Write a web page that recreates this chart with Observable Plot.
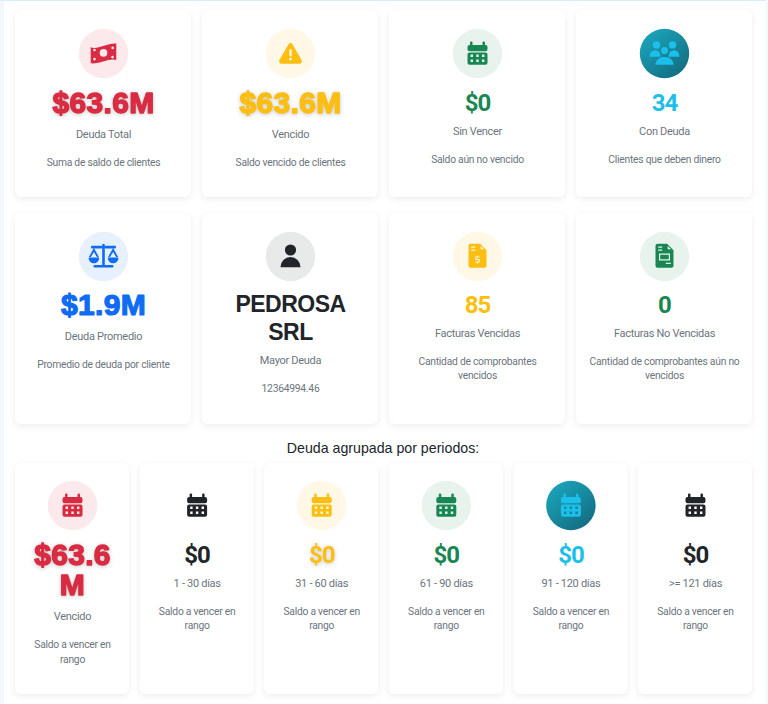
<!DOCTYPE html>
<html lang="es">
<head>
<meta charset="utf-8">
<script src="https://cdn.jsdelivr.net/npm/d3@7"></script>
<script src="https://cdn.jsdelivr.net/npm/@observablehq/plot@0.6"></script>
<style>
  html, body { margin: 0; padding: 0; overflow: hidden; background: #fff; }
  #page { position: relative; width: 768px; height: 704px; background: #fff; }
  #page::before { content: ""; position: absolute; left: 0; top: 0; width: 4px; height: 704px; background: #f4f8fd; }
  #page::after { content: ""; position: absolute; left: 0; top: 0; width: 765px; height: 1px; background: #d9edf6; }
  #edge { position: absolute; left: 765px; top: 0; width: 3px; height: 704px; background: #f6f9fc; }
  svg { display: block; position: relative; }
  #period { height: 25px; text-align: center; font: 14.2px/25px "Liberation Sans", sans-serif; color: #212529; position: relative; left: -1px; }
  [aria-label="teal"] { fill: url(#tealGrad); }
  [aria-label="card label"] { letter-spacing: -0.3px; }
  [aria-label="card note"] { letter-spacing: -0.25px; }
  [aria-label="value num"], [aria-label="value numShadow"] { letter-spacing: -1px; }
  [aria-label="value name"] { letter-spacing: -0.5px; }
  [aria-label="value heavy"], [aria-label="value bold"] { letter-spacing: 0.3px; }
</style>
</head>
<body>
<div id="page"><div id="edge"></div></div>
<script>
// ---- data: values ----
const labelsA = ["Deuda Total", "Vencido", "Sin Vencer", "Con Deuda"];
const valuesA = ["$63.6M", "$63.6M", "$0", "34"];
const notesA  = ["Suma de saldo de clientes", "Saldo vencido de clientes", "Saldo aún no vencido", "Clientes que deben dinero"];
const tonesA  = ["danger", "warning", "success", "info"];
const iconsA  = ["money", "warn", "calendar", "users"];
const kindsA  = ["heavy", "heavy", "num", "num"];

const labelsB = ["Deuda Promedio", "Mayor Deuda", "Facturas Vencidas", "Facturas No Vencidas"];
const valuesB = ["$1.9M", "PEDROSA\nSRL", "85", "0"];
const notesB  = ["Promedio de deuda por cliente", "12364994.46", "Cantidad de comprobantes\nvencidos", "Cantidad de comprobantes aún no\nvencidos"];
const tonesB  = ["primary", "dark", "warning", "success"];
const iconsB  = ["scale", "person", "fileDollar", "fileInvoice"];
const kindsB  = ["bold", "name", "num", "num"];

const periodTitle = "Deuda agrupada por periodos:";
const labelsC = ["Vencido", "1 - 30 días", "31 - 60 días", "61 - 90 días", "91 - 120 días", ">= 121 días"];
const valuesC = ["$63.6\nM", "$0", "$0", "$0", "$0", "$0"];
const notesC  = Array.from(labelsC, () => "Saldo a vencer en\nrango");
const tonesC  = ["danger", "bare", "warning", "success", "info", "bare"];
const iconsC  = ["calendar", "calendar", "calendar", "calendar", "calendar", "calendar"];
const kindsC  = ["heavy", "num", "numShadow", "num", "num", "num"];

// ---- styles ----
const toneDomain = ["danger", "warning", "success", "info", "primary", "dark", "bare"];
const toneRange  = ["#d92b42", "#fdbe12", "#198754", "#1cbfea", "#0f6cf2", "#212529", "#212529"];
const KIND = {
  heavy:     {font: "Liberation Sans", size: 30, lh: 30, v0: 93, g1: 30.5, g2: 27.3, thick: 1.4, shadow: true},
  bold:      {font: "Liberation Sans", size: 30, lh: 30, v0: 93, g1: 30.5, g2: 27.3, thick: 1.2, shadow: false},
  num:       {font: "Roboto", size: 24, lh: 28, v0: 92, g1: 29, g2: 26.7, thick: 0, shadow: false},
  numShadow: {font: "Roboto", size: 24, lh: 28, v0: 92, g1: 29, g2: 26.7, thick: 0, shadow: true},
  name:      {font: "Liberation Sans", size: 23, lh: 28, v0: 91, g1: 29, g2: 27, thick: 0, shadow: false}
};

// ---- icon glyphs: custom symbols for Plot.dot (holes are wound the other way) ----
function rr(c, x, y, w, h, r) {
  c.moveTo(x + r, y); c.lineTo(x + w - r, y); c.arcTo(x + w, y, x + w, y + r, r);
  c.lineTo(x + w, y + h - r); c.arcTo(x + w, y + h, x + w - r, y + h, r);
  c.lineTo(x + r, y + h); c.arcTo(x, y + h, x, y + h - r, r);
  c.lineTo(x, y + r); c.arcTo(x, y, x + r, y, r); c.closePath();
}
function hole(c, x, y, w, h) { c.moveTo(x, y); c.lineTo(x, y + h); c.lineTo(x + w, y + h); c.lineTo(x + w, y); c.closePath(); }
function disc(c, x, y, r) { c.moveTo(x + r, y); c.arc(x, y, r, 0, 2 * Math.PI); c.closePath(); }
function holeDisc(c, x, y, r) { c.moveTo(x + r, y); c.arc(x, y, r, 0, 2 * Math.PI, true); c.closePath(); }
function dome(c, x, y, w, h) {
  const r = Math.min(w / 2, h);
  c.moveTo(x, y + h); c.lineTo(x, y + r); c.arcTo(x, y, x + r, y, r); c.lineTo(x + w - r, y);
  c.arcTo(x + w, y, x + w, y + r, r); c.lineTo(x + w, y + h); c.closePath();
}
function fileBody(c) {
  c.moveTo(-7, -12.7); c.lineTo(2.6, -12.7); c.lineTo(9, -6.3); c.lineTo(9, 9.3);
  c.arcTo(9, 11.3, 7, 11.3, 2); c.lineTo(-7, 11.3); c.arcTo(-9, 11.3, -9, 9.3, 2);
  c.lineTo(-9, -10.7); c.arcTo(-9, -12.7, -7, -12.7, 2); c.closePath();
  hole(c, -6.3, -10, 4, 1.2); hole(c, -6.3, -7, 4, 1.2);
  c.moveTo(3.2, -10.6); c.lineTo(3.2, -7.2); c.lineTo(6.6, -7.2); c.closePath();
}
const ICON = {
  calendar: {draw(c) {
    rr(c, -10, -8.5, 20, 6.3, 2); rr(c, -10, -1, 20, 12.3, 2);
    rr(c, -7.5, -12, 2.5, 4, 1); rr(c, 5, -12, 2.5, 4, 1);
    for (const x of [-5.7, 0, 5.7]) for (const y of [2.3, 7.3]) hole(c, x - 1.2, y - 1.2, 2.4, 2.4);
  }},
  money: {draw(c) {
    c.moveTo(-12.8, -6.2); c.bezierCurveTo(-6, -3.5, 4, -11, 12.8, -10);
    c.lineTo(12.8, 6.6); c.bezierCurveTo(6, 4, -4, 11, -12.8, 9.8); c.closePath();
    holeDisc(c, 0, -0.6, 3.8); holeDisc(c, -9, -3.5, 1.3); holeDisc(c, 9.2, -5.6, 1.3);
    holeDisc(c, -9, 5.6, 1.3); holeDisc(c, 9, 3.6, 1.3);
  }},
  warn: {draw(c) {
    c.moveTo(-1.8, -9.5); c.arcTo(0, -11.5, 1.8, -9.5, 2.2); c.lineTo(11.2, 6.8);
    c.arcTo(13.2, 10.2, 9.4, 10.2, 2.4); c.lineTo(-9.4, 10.2); c.arcTo(-13.2, 10.2, -11.2, 6.8, 2.4); c.closePath();
    hole(c, -1.1, -4.3, 2.2, 7); holeDisc(c, 0, 5.7, 1.35);
  }},
  users: {draw(c) {
    disc(c, -8, -8.6, 3.7); disc(c, 8, -8.6, 3.7); disc(c, 0, -3, 3.5);
    dome(c, -14.8, -3.2, 10.6, 6.4); dome(c, 4.2, -3.2, 10.6, 6.4); dome(c, -9, 3.4, 18, 7.9);
  }},
  scale: {draw(c) {
    rr(c, -1.3, -12.6, 2.6, 21.6, 0.6); rr(c, -12.5, -10.8, 11.2, 2.8, 1); rr(c, 1.3, -10.8, 11.2, 2.8, 1); rr(c, -10, 8.4, 20, 2.5, 1);
    for (const x of [-9.6, 9.6]) {
      c.moveTo(x, -8.4); c.lineTo(x + 5.3, 1); c.lineTo(x - 5.3, 1); c.closePath();
      c.moveTo(x, -4.6); c.lineTo(x - 3, 0.6); c.lineTo(x + 3, 0.6); c.closePath();
      c.moveTo(x + 5.3, 1.4); c.arc(x, 1.4, 5.3, 0, Math.PI); c.closePath();
    }
  }},
  person: {draw(c) { disc(c, 0, -6.5, 5.6); dome(c, -10, 0.6, 20, 10.1); }},
  fileDollar: {draw(c) {
    fileBody(c);
    hole(c, -2.2, 0, 4.4, 1); hole(c, -2.2, 1, 1, 1.5); hole(c, -2.2, 2.5, 4.4, 1);
    hole(c, 1.2, 3.5, 1, 1.5); hole(c, -2.2, 5, 4.4, 1); hole(c, -0.5, -1, 1, 1); hole(c, -0.5, 6, 1, 1);
  }},
  fileInvoice: {draw(c) {
    fileBody(c);
    hole(c, -5.5, -3, 11, 7); c.rect(-4.3, -1.8, 8.6, 4.6); hole(c, 1.3, 6.2, 5, 1.2);
  }}
};

// ---- one row of cards, laid out by stacking each card's lines ----
function row({labels, values, notes, tones, icons, kinds, height, top, bottom, flow, iconDrop, gap}) {
  const cards = labels.map((label, i) => {
    const k = KIND[kinds[i]];
    const n = values[i].split("\n").length;
    const last = flow + k.v0 + (n - 1) * k.lh;
    const labelY = last + k.g1;
    const noteN = notes[i].split("\n").length;
    return {
      label, value: values[i], note: notes[i], tone: tones[i], icon: icons[i], kind: kinds[i],
      iconY: flow + iconDrop,
      valueY: flow + k.v0 + (n - 1) * k.lh / 2,
      labelY,
      noteY: labelY + k.g2 + (noteN - 1) * 7.3
    };
  });
  const xOf = (d) => d.label;
  const marks = [
    () => {
      const ns = "http://www.w3.org/2000/svg";
      const defs = document.createElementNS(ns, "defs");
      defs.innerHTML = `<linearGradient id="tealGrad" x1="0.15" y1="0.1" x2="0.85" y2="0.95"><stop offset="0" stop-color="#1ba3ba"/><stop offset="1" stop-color="#136c80"/></linearGradient>`;
      return defs;
    },
    Plot.barY(cards, {
      x: xOf, y1: () => top, y2: () => bottom, fill: "#fff", rx: 6,
      imageFilter: "drop-shadow(0 2px 3px rgba(0,0,0,.07))"
    }),
    Plot.dot(cards.filter((d) => d.tone !== "bare" && d.tone !== "info"), {
      x: xOf, y: "iconY", r: 24.7, fill: "tone", fillOpacity: 0.1
    }),
    Plot.dot(cards.filter((d) => d.tone === "info"), {
      x: xOf, y: "iconY", r: 24.7, fill: "#17889f", ariaLabel: () => "teal"
    })
  ];
  for (const name of Object.keys(ICON)) {
    const subset = cards.filter((d) => d.icon === name);
    if (subset.length) marks.push(Plot.dot(subset, {
      x: xOf, y: "iconY", r: 12, symbol: ICON[name], fill: "tone"
    }));
  }
  for (const kind of Object.keys(KIND)) {
    const subset = cards.filter((d) => d.kind === kind);
    if (!subset.length) continue;
    const k = KIND[kind];
    marks.push(Plot.text(subset, {
      x: xOf, y: "valueY", text: "value", fill: "tone", ariaLabel: () => "value " + kind,
      fontFamily: k.font, fontWeight: 700, fontSize: k.size, lineHeight: k.lh / k.size,
      ...(k.thick ? {stroke: "tone", strokeWidth: k.thick} : {}),
      ...(k.shadow ? {imageFilter: "drop-shadow(0 1px 2px rgba(0,0,0,.22))"} : {})
    }));
  }
  marks.push(
    Plot.text(cards, {x: xOf, y: "labelY", text: "label", fill: "#6c757d", ariaLabel: () => "card label", fontFamily: "Roboto", fontSize: 11}),
    Plot.text(cards, {x: xOf, y: "noteY", text: "note", fill: "#6c757d", ariaLabel: () => "card note", fontFamily: "Roboto", fontSize: 10.3, lineHeight: 1.42})
  );
  return Plot.plot({
    width: 768, height,
    marginTop: 0, marginRight: 0, marginBottom: 0, marginLeft: 0,
    style: {background: "transparent", overflow: "visible"},
    x: {type: "band", domain: labels, range: [15, 752], paddingInner: gap, paddingOuter: 0, round: false, axis: null},
    y: {type: "linear", domain: [0, height], range: [0, height], axis: null},
    color: {domain: toneDomain, range: toneRange},
    marks
  });
}

const page = document.getElementById("page");
page.append(row({labels: labelsA, values: valuesA, notes: notesA, tones: tonesA, icons: iconsA, kinds: kindsA,
                 height: 206, top: 10, bottom: 197, flow: 10, iconDrop: 43, gap: 11 / 187}));
page.append(row({labels: labelsB, values: valuesB, notes: notesB, tones: tonesB, icons: iconsB, kinds: kindsB,
                 height: 230, top: 7, bottom: 218, flow: 6, iconDrop: 44, gap: 11 / 187}));
const heading = document.createElement("div");
heading.id = "period";
heading.textContent = periodTitle;
page.append(heading);
page.append(row({labels: labelsC, values: valuesC, notes: notesC, tones: tonesC, icons: iconsC, kinds: kindsC,
                 height: 243, top: 2, bottom: 233, flow: 1, iconDrop: 43, gap: 10.6 / 124.8}));
</script>
</body>
</html>
